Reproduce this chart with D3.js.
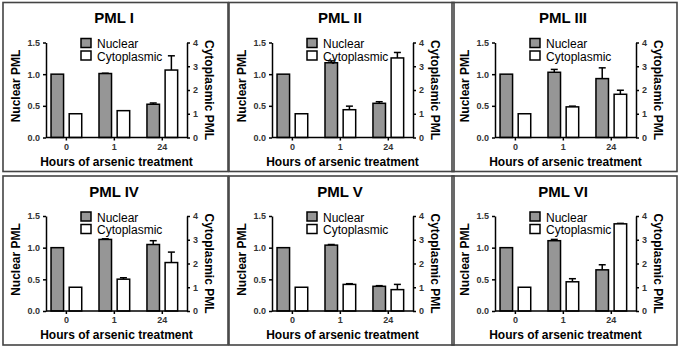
<!DOCTYPE html>
<html>
<head>
<meta charset="utf-8">
<script src="https://cdn.jsdelivr.net/npm/d3@7"></script>
<style>
body { margin: 0; background: #fff; }
svg { display: block; font-family: "Liberation Sans", Arial, sans-serif; }
</style>
</head>
<body>
<div id="chart"></div>
<script>
// Data
var titles = ["PML I", "PML II", "PML III", "PML IV", "PML V", "PML VI"];
var hours = ["0", "1", "24"];
var series = ["Nuclear", "Cytoplasmic"];

var nuclear = [
    [1, 1.01, 0.525],
    [1, 1.18, 0.54],
    [1, 1.03, 0.93],
    [1, 1.13, 1.05],
    [1, 1.04, 0.39],
    [1, 1.11, 0.65]
];
var nuclearErr = [
    [0, 0.005, 0.02],
    [0, 0.03, 0.025],
    [0, 0.045, 0.17],
    [0, 0.01, 0.06],
    [0, 0.01, 0.01],
    [0, 0.02, 0.08]
];
var cyto = [
    [1, 1.13, 2.84],
    [1, 1.17, 3.35],
    [1, 1.29, 1.82],
    [1, 1.34, 2.04],
    [1, 1.12, 0.9],
    [1, 1.23, 3.67]
];
var cytoErr = [
    [0, 0, 0.6],
    [0, 0.15, 0.23],
    [0, 0.03, 0.17],
    [0, 0.06, 0.44],
    [0, 0.03, 0.22],
    [0, 0.13, 0.02]
];
var leftTicks = [0, 0.5, 1.0, 1.5];
var rightTicks = [0, 1, 2, 3, 4];

var svg = d3.select("#chart").append("svg")
    .attr("width", 680)
    .attr("height", 349);

var colX = [3, 229, 452], rowY = [2.5, 176];
var pw = 225, ph = 169;
var L = 43, R = 184, T = 40, B = 135;
var barColor = {"Nuclear": "#969696", "Cytoplasmic": "#ffffff"};

function styleAxis(g) {
    g.select(".domain").attr("stroke", "#000").attr("stroke-width", 1.5);
    g.selectAll(".tick line").attr("stroke", "#000").attr("stroke-width", 1.5);
    g.selectAll(".tick text")
        .attr("fill", "#333")
        .style("font-size", "9px")
        .style("font-weight", "bold");
}

titles.forEach(function(title, i) {
    var g = svg.append("g")
        .attr("transform", "translate(" + colX[i % 3] + "," + rowY[Math.floor(i / 3)] + ")");

    g.append("rect")
        .attr("width", pw)
        .attr("height", ph)
        .attr("fill", "none")
        .attr("stroke", "#444")
        .attr("stroke-width", 1.6);

    var x = d3.scaleBand().domain(hours).range([L, R])
        .paddingInner(0.36).paddingOuter(0.15).align(0.35);
    var xs = d3.scaleBand().domain(series).range([0, x.bandwidth()]).paddingInner(0.31);
    var yL = d3.scaleLinear().domain([0, 1.5]).range([B, T]);
    var yR = d3.scaleLinear().domain([0, 4]).range([B, T]);

    var rows = [];
    hours.forEach(function(h, j) {
        rows.push({h: h, s: "Nuclear", v: nuclear[i][j], e: nuclearErr[i][j], y: yL});
        rows.push({h: h, s: "Cytoplasmic", v: cyto[i][j], e: cytoErr[i][j], y: yR});
    });

    // error bars (upper only)
    var err = g.selectAll(".err").data(rows.filter(d => d.e > 0)).enter().append("g");
    err.append("line")
        .attr("x1", d => x(d.h) + xs(d.s) + xs.bandwidth() / 2)
        .attr("x2", d => x(d.h) + xs(d.s) + xs.bandwidth() / 2)
        .attr("y1", d => d.y(d.v))
        .attr("y2", d => d.y(d.v + d.e))
        .attr("stroke", "#000").attr("stroke-width", 1.5);
    err.append("line")
        .attr("x1", d => x(d.h) + xs(d.s) + xs.bandwidth() / 2 - 3.5)
        .attr("x2", d => x(d.h) + xs(d.s) + xs.bandwidth() / 2 + 3.5)
        .attr("y1", d => d.y(d.v + d.e))
        .attr("y2", d => d.y(d.v + d.e))
        .attr("stroke", "#000").attr("stroke-width", 1.5);

    g.selectAll(".bar").data(rows).enter().append("rect")
        .attr("x", d => x(d.h) + xs(d.s))
        .attr("y", d => d.y(d.v))
        .attr("width", xs.bandwidth())
        .attr("height", d => B - d.y(d.v))
        .attr("fill", d => barColor[d.s])
        .attr("stroke", "#000")
        .attr("stroke-width", 1.5);

    // axes
    g.append("g").attr("transform", "translate(" + L + ",0)")
        .call(d3.axisLeft(yL).tickValues(leftTicks).tickFormat(d3.format(".1f")).tickSize(3).tickSizeOuter(0))
        .call(styleAxis);
    g.append("g").attr("transform", "translate(" + R + ",0)")
        .call(d3.axisRight(yR).tickValues(rightTicks).tickFormat(d3.format("d")).tickSize(3).tickSizeOuter(0))
        .call(styleAxis);
    g.append("g").attr("transform", "translate(0," + B + ")")
        .call(d3.axisBottom(x).tickSize(3).tickSizeOuter(0))
        .call(styleAxis)
        .call(a => a.select(".domain").attr("d", "M" + L + ",0H" + R));

    // titles
    g.append("text")
        .attr("x", 111).attr("y", 20.5)
        .attr("text-anchor", "middle")
        .style("font-size", "15px").style("font-weight", "bold")
        .text(title);
    g.append("text")
        .attr("x", (L + R) / 2).attr("y", 163)
        .attr("text-anchor", "middle")
        .style("font-size", "12px").style("font-weight", "bold")
        .text("Hours of arsenic treatment");
    g.append("text")
        .attr("transform", "translate(16.5," + ((T + B) / 2 - 4) + ") rotate(-90)")
        .attr("text-anchor", "middle")
        .style("font-size", "12px").style("font-weight", "bold")
        .text("Nuclear PML");
    g.append("text")
        .attr("transform", "translate(201.5," + ((T + B) / 2) + ") rotate(90)")
        .attr("text-anchor", "middle")
        .style("font-size", "12px").style("font-weight", "bold")
        .text("Cytoplasmic PML");

    // legend
    var lg = g.selectAll(".legend").data(series).enter().append("g")
        .attr("transform", (d, k) => "translate(" + (L + 35) + "," + (T - 4 + k * 12.5) + ")");
    lg.append("rect")
        .attr("width", 10).attr("height", 9)
        .attr("fill", d => barColor[d])
        .attr("stroke", "#000").attr("stroke-width", 1.5);
    lg.append("text")
        .attr("x", 16).attr("y", 9.5)
        .style("font-size", "12px")
        .text(d => d);
});
</script>
</body>
</html>
